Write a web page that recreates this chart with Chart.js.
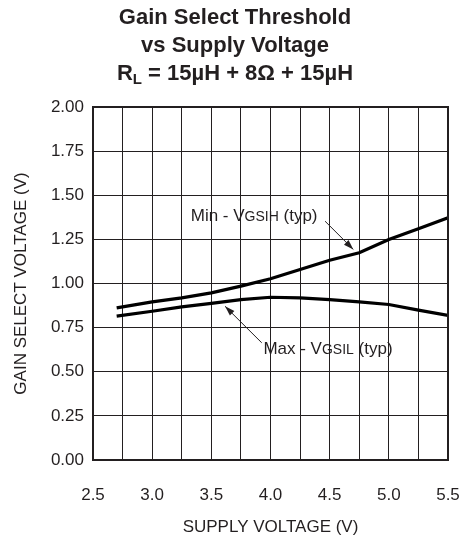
<!DOCTYPE html>
<html>
<head>
<meta charset="utf-8">
<script src="https://cdn.jsdelivr.net/npm/chart.js@4.4.1/dist/chart.umd.min.js"></script>
<style>
  html, body { margin: 0; padding: 0; background: #fff; }
  #wrap { width: 462px; height: 542px; }
</style>
</head>
<body>
<div id="wrap"><canvas id="c" width="462" height="542"></canvas></div>
<script>
// ---- Data ----
const supplyVoltage = [2.7, 3.0, 3.25, 3.5, 3.75, 4.0, 4.25, 4.5, 4.75, 5.0, 5.25, 5.5];
const minVgsih = [0.862, 0.896, 0.919, 0.947, 0.985, 1.027, 1.079, 1.132, 1.174, 1.249, 1.310, 1.372];
const maxVgsil = [0.815, 0.843, 0.868, 0.887, 0.909, 0.922, 0.919, 0.909, 0.896, 0.881, 0.849, 0.819];
const xTickLabels = ['2.5', '3.0', '3.5', '4.0', '4.5', '5.0', '5.5'];
const yTickLabels = ['0.00', '0.25', '0.50', '0.75', '1.00', '1.25', '1.50', '1.75', '2.00'];
const titleLines = ['Gain Select Threshold', 'vs Supply Voltage', 'R_L = 15\u00B5H + 8\u03A9 + 15\u00B5H'];
const annotations = [
  { parts: [['Min - V', 'n'], ['GSIH', 's'], [' (typ)', 'n']], x: 3.326, y: 1.380, from: [4.461, 1.353], to: [4.70, 1.193] },
  { parts: [['Max - V', 'n'], ['GSIL', 's'], [' (typ)', 'n']], x: 3.94, y: 0.626, from: [3.926, 0.664], to: [3.616, 0.871] }
];

const FONT = '"Liberation Sans", Arial, Helvetica, sans-serif';
const INK = '#231f20';
const toPts = (ys) => supplyVoltage.map((x, i) => ({ x: x, y: ys[i] }));

// Title plugin with subscript support
const titlePlugin = {
  id: 'customTitle',
  afterDraw(chart) {
    const ctx = chart.ctx;
    ctx.save();
    ctx.fillStyle = INK;
    ctx.textBaseline = 'alphabetic';
    const cx = 235;
    const ys = [23.5, 52, 80];
    titleLines.forEach((line, i) => {
      if (line.indexOf('_') >= 0) {
        const [a, rest] = line.split('_');
        const sub = rest.charAt(0);
        const tail = rest.slice(1);
        ctx.font = 'bold 22px ' + FONT;
        const wa = ctx.measureText(a).width;
        const wt = ctx.measureText(tail).width;
        ctx.font = 'bold 15px ' + FONT;
        const ws = ctx.measureText(sub).width;
        let x = cx - (wa + ws + wt) / 2;
        ctx.textAlign = 'left';
        ctx.font = 'bold 22px ' + FONT;
        ctx.fillText(a, x, ys[i]); x += wa;
        ctx.font = 'bold 15px ' + FONT;
        ctx.fillText(sub, x, ys[i] + 3.5); x += ws;
        ctx.font = 'bold 22px ' + FONT;
        ctx.fillText(tail, x, ys[i]);
      } else {
        ctx.font = 'bold 22px ' + FONT;
        ctx.textAlign = 'center';
        ctx.fillText(line, cx, ys[i]);
      }
    });
    ctx.restore();
  }
};

const annotPlugin = {
  id: 'annot',
  afterDatasetsDraw(chart) {
    const ctx = chart.ctx;
    const xs = chart.scales.x, ys = chart.scales.y;
    ctx.save();
    ctx.fillStyle = INK;
    ctx.strokeStyle = INK;
    ctx.textBaseline = 'middle';
    ctx.textAlign = 'left';
    annotations.forEach(a => {
      let px = xs.getPixelForValue(a.x);
      const py = ys.getPixelForValue(a.y);
      a.parts.forEach(([t, k]) => {
        ctx.font = (k === 'n' ? '17px ' : '14px ') + FONT;
        ctx.fillText(t, px, k === 'n' ? py : py + 1);
        px += ctx.measureText(t).width;
      });
      const x1 = xs.getPixelForValue(a.from[0]), y1 = ys.getPixelForValue(a.from[1]);
      const x2 = xs.getPixelForValue(a.to[0]), y2 = ys.getPixelForValue(a.to[1]);
      ctx.lineWidth = 1;
      ctx.beginPath(); ctx.moveTo(x1, y1); ctx.lineTo(x2, y2); ctx.stroke();
      const ang = Math.atan2(y2 - y1, x2 - x1);
      const L = 10, W = 3.2;
      ctx.beginPath();
      ctx.moveTo(x2, y2);
      ctx.lineTo(x2 - L * Math.cos(ang) + W * Math.sin(ang), y2 - L * Math.sin(ang) - W * Math.cos(ang));
      ctx.lineTo(x2 - L * Math.cos(ang) - W * Math.sin(ang), y2 - L * Math.sin(ang) + W * Math.cos(ang));
      ctx.closePath(); ctx.fill();
    });
    ctx.restore();
  }
};

new Chart(document.getElementById('c'), {
  type: 'line',
  data: {
    datasets: [
      { label: 'Min - VGSIH (typ)', data: toPts(minVgsih), borderColor: '#000', borderWidth: 3.2, pointRadius: 0, tension: 0, fill: false },
      { label: 'Max - VGSIL (typ)', data: toPts(maxVgsil), borderColor: '#000', borderWidth: 3.2, pointRadius: 0, tension: 0, fill: false }
    ]
  },
  options: {
    responsive: false,
    animation: false,
    devicePixelRatio: 1,
    layout: { padding: { top: 107, right: 14, left: 0, bottom: 0 } },
    plugins: { legend: { display: false }, tooltip: { enabled: false }, title: { display: false } },
    scales: {
      x: {
        type: 'linear', min: 2.5, max: 5.5,
        afterFit(s) { s.height = 82; s.paddingRight = 0; s.paddingLeft = 0; },
        afterBuildTicks(s) { s.ticks = []; for (let i = 0; i <= 12; i++) s.ticks.push({ value: 2.5 + i * 0.25 }); },
        ticks: {
          autoSkip: false, maxRotation: 0, padding: 25, color: INK,
          font: { family: FONT, size: 17 },
          callback(v) { const i = Math.round((v - 2.5) / 0.5); return Math.abs(v - 2.5 - i * 0.5) < 1e-6 ? xTickLabels[i] : ''; }
        },
        grid: { color: INK, lineWidth: 1, drawTicks: false },
        border: { color: INK, width: 2 },
        title: { display: true, text: 'SUPPLY VOLTAGE (V)', color: INK, font: { family: FONT, size: 17 }, padding: { top: 10, bottom: 4 } }
      },
      y: {
        min: 0, max: 2.0,
        afterFit(s) { s.width = 93; s.paddingTop = 0; s.paddingBottom = 0; },
        afterBuildTicks(s) { s.ticks = yTickLabels.map((_, i) => ({ value: i * 0.25 })); },
        ticks: {
          autoSkip: false, padding: 9, color: INK,
          font: { family: FONT, size: 17 },
          callback(v) { return yTickLabels[Math.round(v / 0.25)]; }
        },
        grid: { color: INK, lineWidth: 1, drawTicks: false },
        border: { color: INK, width: 2 },
        title: { display: true, text: 'GAIN SELECT VOLTAGE (V)', color: INK, font: { family: FONT, size: 17 }, padding: { top: 11, bottom: 0 } }
      }
    }
  },
  plugins: [titlePlugin, annotPlugin, {
    id: 'frame',
    afterDraw(chart) {
      const a = chart.chartArea, ctx = chart.ctx;
      ctx.save(); ctx.strokeStyle = INK; ctx.lineWidth = 2;
      ctx.strokeRect(a.left, a.top, a.right - a.left, a.bottom - a.top);
      ctx.restore();
    }
  }]
});
</script>
</body>
</html>
